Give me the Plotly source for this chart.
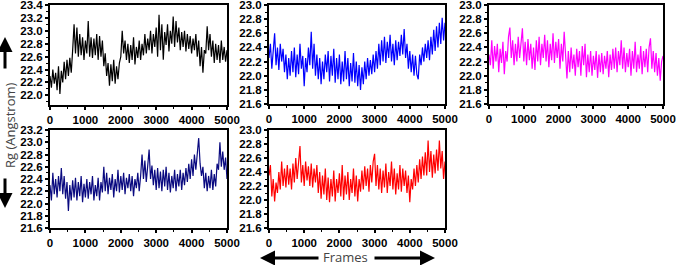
import numpy as np
import plotly.graph_objects as go

# ---- data (Rg in Angstrom, sampled every 40 frames, 0..5000) ----
rg_black = [22.30,22.12,22.40,22.18,22.35,22.08,22.45,22.02,22.38,22.20,22.52,22.25,22.55,22.30,22.58,22.35,
            22.70,23.10,22.65,23.05,22.60,22.95,22.62,22.90,22.55,22.85,22.65,23.15,22.60,22.90,22.58,22.88,
            22.62,22.95,22.55,22.92,22.60,22.85,22.45,22.65,22.30,22.50,22.15,22.48,22.22,22.55,22.18,22.45,
            22.25,22.50,22.60,23.00,22.65,22.85,22.55,22.80,22.50,22.78,22.55,22.90,22.48,22.75,22.58,22.85,
            22.55,22.80,22.62,22.95,22.65,22.88,22.70,23.00,22.65,22.95,22.75,23.05,22.60,23.25,22.70,23.10,
            22.55,22.98,22.78,23.10,22.68,23.00,22.80,23.22,22.75,23.15,22.82,23.05,22.70,22.98,22.75,23.00,
            22.68,22.95,22.72,22.92,22.65,22.88,22.70,22.95,22.60,22.85,22.45,22.75,22.35,22.70,22.65,23.07,
            22.70,22.95,22.60,22.85,22.50,22.80,22.55,22.78,22.50,22.85,22.55,22.75,22.52,22.70]
rg_blue = [22.25,22.45,22.10,22.35,22.60,22.15,22.40,22.08,22.45,22.20,22.38,22.05,22.30,21.95,22.25,22.00,
           22.35,22.05,22.40,21.98,22.30,22.02,22.45,22.10,22.28,21.85,22.25,22.05,22.40,22.15,22.62,22.10,
           22.45,22.00,22.30,21.95,22.25,21.88,22.20,21.95,22.30,22.05,22.35,21.92,22.28,22.00,22.38,21.90,
           22.25,21.95,22.30,21.88,22.20,21.92,22.35,21.95,22.25,21.85,22.18,21.92,22.32,21.90,22.20,21.85,
           22.15,21.80,22.12,21.88,22.20,21.95,22.25,22.00,22.22,22.02,22.30,22.05,22.35,22.10,22.45,22.15,
           22.50,22.20,22.55,22.18,22.48,22.25,22.58,22.20,22.45,22.15,22.50,22.22,22.48,22.28,22.58,22.30,
           22.66,22.25,22.45,22.10,22.35,22.05,22.30,22.00,22.28,22.02,21.95,22.30,22.15,22.40,22.20,22.45,
           22.25,22.50,22.22,22.55,22.30,22.65,22.35,22.70,22.40,22.75,22.45,22.82,22.50,22.75]
rg_magenta = [22.30,22.15,22.50,22.10,22.42,22.20,22.45,22.05,22.38,22.18,22.48,22.02,22.35,22.20,22.55,22.68,
              22.25,22.50,22.15,22.45,22.20,22.55,22.25,22.42,22.67,22.20,22.48,22.15,22.52,22.22,22.45,22.10,
              22.40,22.08,22.50,22.20,22.55,22.15,22.45,22.25,22.58,22.20,22.50,22.12,22.45,22.22,22.60,22.18,
              22.48,22.25,22.52,22.10,22.45,22.20,22.62,22.30,21.96,22.35,22.05,22.40,22.10,22.30,22.00,22.38,
              22.12,22.35,22.00,22.42,22.15,22.45,21.98,22.30,22.05,22.35,22.00,22.28,22.08,22.35,21.97,22.30,
              22.05,22.32,22.02,22.28,22.10,22.35,21.98,22.30,22.08,22.38,22.10,22.40,22.05,22.35,22.15,22.50,
              22.10,22.40,22.05,22.32,22.12,22.38,22.00,22.35,22.10,22.48,22.05,22.30,22.10,22.42,22.02,22.35,
              22.12,22.38,22.05,22.40,22.53,22.10,22.35,22.05,22.32,22.00,22.25,21.93,22.20,22.28]
rg_navy = [22.30,22.05,22.50,22.15,22.40,22.10,22.45,22.20,22.58,22.15,22.45,22.08,22.35,21.88,22.30,22.05,
           22.38,22.10,22.42,22.05,22.35,22.12,22.45,22.02,22.32,22.10,22.40,22.08,22.35,22.15,22.45,22.05,
           22.30,22.12,22.42,22.05,22.35,22.18,22.60,22.20,22.50,22.15,22.42,22.22,22.48,22.10,22.40,22.20,
           22.55,22.18,22.45,22.22,22.50,22.15,22.42,22.25,22.48,22.20,22.45,22.12,22.40,22.25,22.50,22.20,
           22.45,22.80,22.40,22.70,22.35,22.65,22.88,22.40,22.62,22.30,22.55,22.22,22.58,22.25,22.52,22.20,
           22.55,22.28,22.60,22.22,22.50,22.18,22.45,22.25,22.55,22.20,22.48,22.28,22.55,22.22,22.50,22.30,
           22.58,22.35,22.65,22.40,22.72,22.45,22.80,22.55,22.90,23.07,22.65,22.45,22.60,22.25,22.50,22.20,
           22.45,22.25,22.55,22.22,22.48,22.28,22.65,22.55,23.00,22.60,22.85,22.55,22.75,22.40]
rg_red = [22.35,22.50,22.05,22.30,21.98,22.25,22.10,22.40,22.15,22.55,22.20,22.45,22.18,22.50,22.22,22.45,
          22.15,22.52,22.25,22.60,22.30,22.55,22.77,22.25,22.50,22.20,22.55,22.28,22.48,22.20,22.52,22.18,
          22.45,22.25,22.50,22.10,22.40,22.02,22.35,22.08,22.45,22.00,22.32,21.97,22.30,22.05,22.42,21.98,
          22.30,22.10,22.38,22.05,22.50,22.00,22.35,22.08,22.40,22.00,22.30,22.10,22.45,22.05,22.35,21.98,
          22.30,22.12,22.42,22.15,22.48,22.20,22.45,22.12,22.50,22.25,22.55,22.66,22.20,22.50,22.15,22.45,
          22.10,22.42,22.18,22.52,22.10,22.40,22.20,22.55,22.15,22.45,22.08,22.38,22.15,22.50,22.12,22.45,
          22.20,22.42,22.10,22.35,21.97,22.30,22.15,22.45,22.20,22.50,22.25,22.58,22.30,22.62,22.35,22.68,
          22.35,22.85,22.40,22.70,22.32,22.65,22.38,22.72,22.42,22.85,22.45,22.70,22.30,22.55]

series = [rg_black, rg_blue, rg_magenta, rg_navy, rg_red]
colors = ["#000000", "#0000FF", "#FF00FF", "#0A0A80", "#FF0000"]
y_ranges = [[21.85, 23.4], [21.6, 23.0], [21.6, 23.0], [21.6, 23.2], [21.6, 23.0]]
x_ticks = [0, 1000, 2000, 3000, 4000, 5000]

W, H = 676, 265
# panel pixel boxes (left, right, top, bottom)
boxes = [(50, 227, 5, 105), (269, 445, 5, 104), (489, 663, 5, 104),
         (50, 227, 130, 228), (269, 445, 130, 228)]

fig = go.Figure()
layout = {}
tickfont = dict(family="Liberation Sans", size=11.5, color="black", weight="bold")
for i, (vals, col, yr, box) in enumerate(zip(series, colors, y_ranges, boxes)):
    n = i + 1
    xa = "x" if n == 1 else f"x{n}"
    ya = "y" if n == 1 else f"y{n}"
    frames = np.linspace(0, 5000, len(vals))
    fig.add_trace(go.Scatter(x=frames, y=vals, mode="lines", xaxis=xa, yaxis=ya,
                             line=dict(color=col, width=1.2), showlegend=False, hoverinfo="skip"))
    l, r, t, b = box
    ticks_y = [round(v, 1) for v in np.arange(22.0 if yr[0] > 21.7 else 21.6, yr[1] + 0.001, 0.2)]
    layout["xaxis" if n == 1 else f"xaxis{n}"] = dict(
        domain=[l / W, r / W], anchor=ya, range=[0, 5000], tickvals=x_ticks,
        ticks="outside", ticklen=3, tickwidth=1.5, tickcolor="black", automargin=False,
        ticklabeloverflow="allow",
        showline=True, linecolor="black", linewidth=2, mirror=True, showgrid=False,
        zeroline=False, tickfont=tickfont,
        minor=dict(dtick=500, tick0=0, ticks="outside", ticklen=2, tickcolor="black", tickwidth=1))
    layout["yaxis" if n == 1 else f"yaxis{n}"] = dict(
        domain=[1 - b / H, 1 - t / H], anchor=xa, range=yr, tickvals=ticks_y,
        ticktext=[f"{v:.1f}" for v in ticks_y], automargin=False,
        ticklabeloverflow="allow",
        ticks="outside", ticklen=3, tickwidth=1.5, tickcolor="black",
        showline=True, linecolor="black", linewidth=2, mirror=True, showgrid=False,
        zeroline=False, tickfont=tickfont,
        minor=dict(dtick=0.1, tick0=0, ticks="outside", ticklen=2, tickcolor="black", tickwidth=1))

annotations = [
    dict(text="Rg (Angstrom)", x=10 / W, y=1 - 125 / H, xref="paper", yref="paper",
         xanchor="center", yanchor="middle",
         textangle=-90, showarrow=False, font=dict(family="Open Sans", size=13, color="#444")),
    dict(text="Frames", x=345 / W, y=1 - 257 / H, xref="paper", yref="paper",
         xanchor="center", yanchor="middle",
         showarrow=False, font=dict(family="Open Sans", size=13, color="#444")),
    # arrows
    dict(text="", x=5 / W, y=1 - 37 / H, xref="paper", yref="paper", ax=0, ay=33,
         showarrow=True, arrowhead=2, arrowsize=1, arrowwidth=3, arrowcolor="black"),
    dict(text="", x=5 / W, y=1 - 208 / H, xref="paper", yref="paper", ax=0, ay=-31,
         showarrow=True, arrowhead=2, arrowsize=1, arrowwidth=3, arrowcolor="black"),
    dict(text="", x=260 / W, y=1 - 258 / H, xref="paper", yref="paper", ax=60, ay=0,
         showarrow=True, arrowhead=2, arrowsize=1, arrowwidth=3, arrowcolor="black"),
    dict(text="", x=435 / W, y=1 - 258 / H, xref="paper", yref="paper", ax=-62, ay=0,
         showarrow=True, arrowhead=2, arrowsize=1, arrowwidth=3, arrowcolor="black"),
]

fig.update_layout(width=W, height=H, margin=dict(l=0, r=0, t=0, b=0),
                  paper_bgcolor="white", plot_bgcolor="white",
                  annotations=annotations, **layout)
fig.write_html("out.html", config={"displayModeBar": False},
               post_script="document.body.style.margin='0';document.body.style.padding='0';"
                           "document.documentElement.style.overflow='hidden';")
